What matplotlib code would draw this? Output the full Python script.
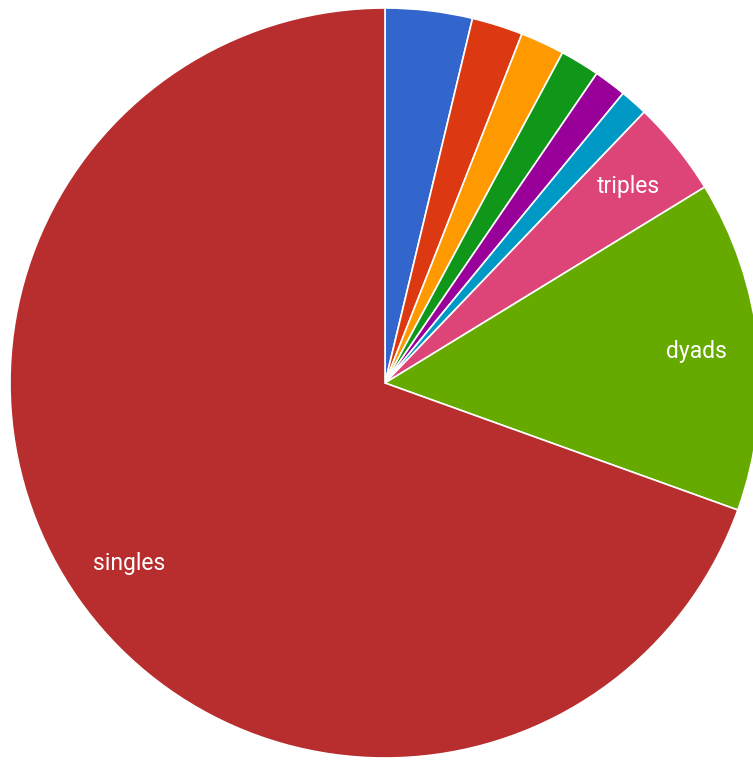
import matplotlib
matplotlib.use("Agg")
import matplotlib.pyplot as plt

categories = ["sextuples", "septuples", "octuples", "nonuples", "decuples", "larger",
              "triples", "dyads", "singles"]
values = [3.75, 2.2, 1.9, 1.7, 1.4, 1.2, 4.1, 14.25, 69.5]
shown_labels = ["", "", "", "", "", "", "triples", "dyads", "singles"]
colors = ["#3366cc", "#dc3912", "#ff9900", "#109618", "#990099", "#0099c6",
          "#dd4477", "#66aa00", "#b82e2e"]

W, H = 753, 761
fig = plt.figure(figsize=(W / 100, H / 100), dpi=100)
ax = fig.add_axes([0, 0, 1, 1])

wedges, texts = ax.pie(values, labels=shown_labels, colors=colors, startangle=90,
                       counterclock=False, center=(385, H - 383), radius=375,
                       labeldistance=0.835, frame=True,
                       wedgeprops=dict(edgecolor="white", linewidth=1.2),
                       textprops=dict(color="white", fontsize=16.5,
                                      family=["Roboto", "DejaVu Sans"]))
for t in texts:
    t.set_horizontalalignment("center")
    t.set_verticalalignment("center")
ax.set_xlim(0, W)
ax.set_ylim(0, H)
ax.set_aspect("equal")
ax.axis("off")

fig.savefig("out.png", dpi=100)
